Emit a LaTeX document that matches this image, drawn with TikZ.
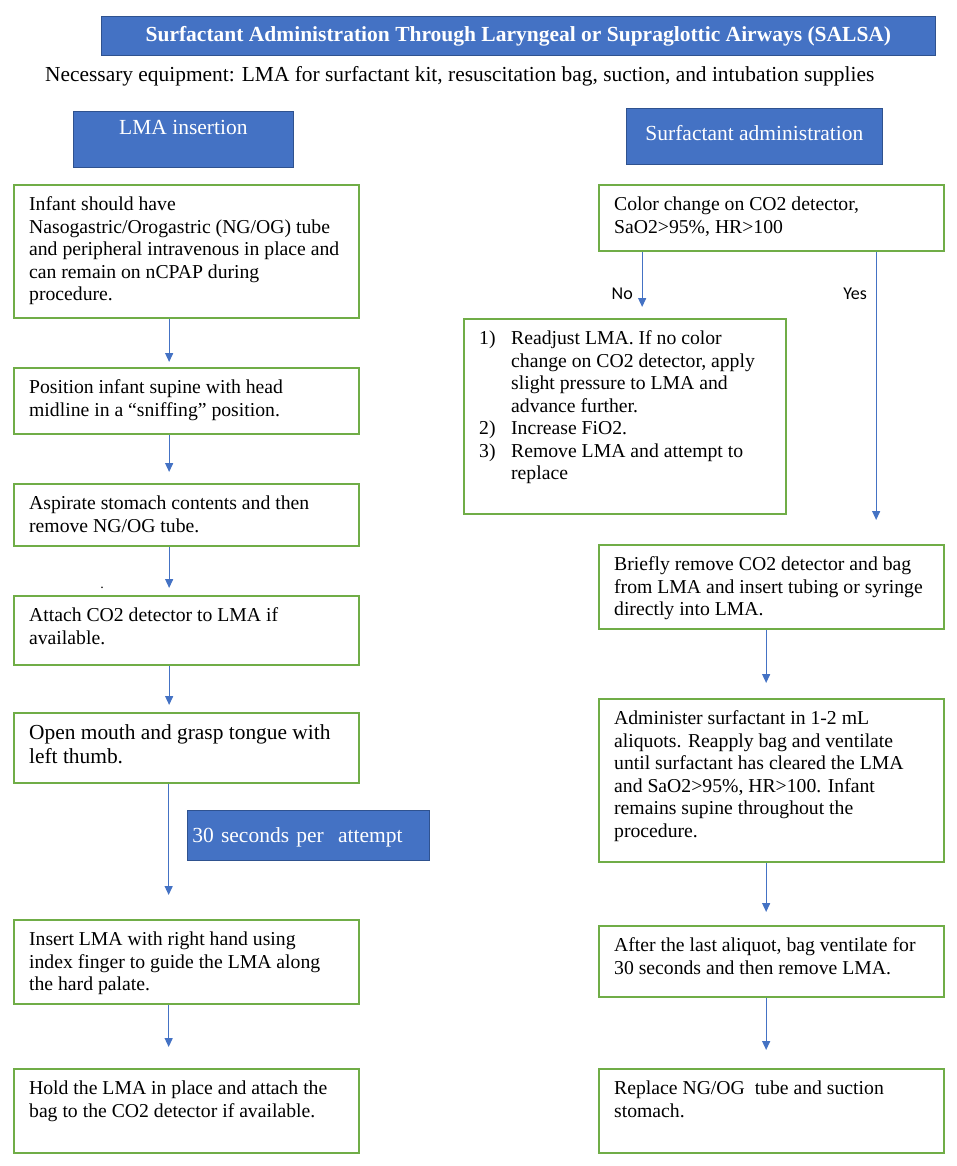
\documentclass[tikz,border=0pt]{standalone}
\usepackage{fontspec}
\setmainfont{Liberation Serif}
\newfontfamily\labelfont{Carlito}
\usetikzlibrary{positioning}
\usetikzlibrary{arrows.meta}
\definecolor{boxGreen}{HTML}{70AD47}
\definecolor{headBlue}{HTML}{4472C4}
\definecolor{headBorder}{HTML}{2F528F}
\definecolor{arrowBlue}{HTML}{4472C4}
\newcommand{\bodysize}{\fontsize{19.7pt}{22.5pt}\selectfont}
\newcommand{\bigbodysize}{\fontsize{21.4pt}{24pt}\selectfont}
\newcommand{\headsize}{\fontsize{21.5pt}{24pt}\selectfont}
\newcommand{\steptext}[3]{\parbox[c][#2][t]{#1}{\raggedright\strut #3}}
\newcommand{\itemno}[1]{\makebox[32pt][l]{#1}}

\begin{document}
\begin{tikzpicture}[x=1pt, y=-1pt]

          \tikzstyle{headNode} = [draw=headBorder, line width=0.8pt, fill=headBlue, text=white, anchor=north west, inner sep=0pt, font=\headsize];
          \tikzstyle{stepNode} = [draw=boxGreen, line width=2.3pt, anchor=north west, inner xsep=15pt, inner ysep=10pt, font=\bodysize];
          \tikzstyle{flowArrow} = [draw=arrowBlue, line width=1.3pt, -{Triangle[length=9pt,width=8pt]}];
          \tikzstyle{arrowLabel} = [anchor=east, inner sep=0pt, text height=12pt, text depth=0pt, font=\labelfont\fontsize{18pt}{20pt}\selectfont];

          \useasboundingbox (0,0) rectangle (957,1166);

          % headings
          \node[headNode, minimum width=834pt, text height=25pt, text depth=14pt, font=\headsize\bfseries] (title) at (101,16) {Surfactant Administration Through Laryngeal or Supraglottic Airways (SALSA)};
          \node[anchor=base west, inner sep=0pt, font=\fontsize{21.4pt}{24pt}\selectfont] (equip) at (45,82) {Necessary equipment: LMA for surfactant kit, resuscitation bag, suction, and intubation supplies};
          \node[headNode, minimum width=220pt, text height=23pt, text depth=33pt] (lmaHead) at (73,111) {LMA insertion};
          \node[headNode, minimum width=256pt, text height=32pt, text depth=24pt] (surfHead) at (626,108) {Surfactant administration};

          % LMA insertion
          \node[stepNode] (prep) at (13,184) {\steptext{315pt}{113pt}{Infant should have\\Nasogastric/Orogastric (NG/OG) tube\\and peripheral intravenous in place and\\can remain on nCPAP during\\procedure.}};
          \node[stepNode] (position) at (13,367) {\steptext{315pt}{46pt}{Position infant supine with head\\midline in a ``sniffing'' position.}};
          \node[stepNode] (aspirate) at (13,483) {\steptext{315pt}{42pt}{Aspirate stomach contents and then\\remove NG/OG tube.}};
          \node[inner sep=0pt, font=\fontsize{14pt}{14pt}\selectfont] (dot) at (102,588) {.};
          \node[stepNode] (attach) at (13,595) {\steptext{315pt}{49pt}{Attach CO2 detector to LMA if\\available.}};
          \node[stepNode, font=\bigbodysize] (mouth) at (13,712) {\steptext{315pt}{50pt}{Open mouth and grasp tongue with\\left thumb.}};
          \node[headNode, text width=232pt, align=left, inner xsep=5pt, text height=32pt, text depth=18pt] (attempt) at (187,810) {30 seconds per\ \ attempt};
          \node[stepNode] (insert) at (13,919) {\steptext{315pt}{64pt}{Insert LMA with right hand using\\index finger to guide the LMA along\\the hard palate.}};
          \node[stepNode] (hold) at (13,1068) {\steptext{315pt}{64pt}{Hold the LMA in place and attach the\\bag to the CO2 detector if available.}};

          % surfactant administration
          \node[stepNode] (color) at (598,184) {\steptext{315pt}{46pt}{Color change on CO2 detector,\\SaO2>95\%, HR>100}};
          \node[stepNode] (readjust) at (463,318) {\steptext{292pt}{175pt}{\itemno{1)}Readjust LMA. If no color\\\hspace*{32pt}change on CO2 detector, apply\\\hspace*{32pt}slight pressure to LMA and\\\hspace*{32pt}advance further.\\\itemno{2)}Increase FiO2.\\\itemno{3)}Remove LMA and attempt to\\\hspace*{32pt}replace}};
          \node[stepNode] (briefly) at (598,544) {\steptext{315pt}{64pt}{Briefly remove CO2 detector and bag\\from LMA and insert tubing or syringe\\directly into LMA.}};
          \node[stepNode] (administer) at (598,698) {\steptext{315pt}{143pt}{Administer surfactant in 1-2 mL\\aliquots. Reapply bag and ventilate\\until surfactant has cleared the LMA\\and SaO2>95\%, HR>100. Infant\\remains supine throughout the\\procedure.}};
          \node[stepNode] (after) at (598,925) {\steptext{315pt}{51pt}{After the last aliquot, bag ventilate for\\30 seconds and then remove LMA.}};
          \node[stepNode] (replace) at (598,1068) {\steptext{315pt}{64pt}{Replace NG/OG\ \ tube and suction\\stomach.}};

          \node[arrowLabel] (no) at (633,293) {No};
          \node[arrowLabel] (yes) at (867,293) {Yes};

          \draw[flowArrow, shorten >=5pt] ([xshift=-17.5pt]prep.south) -- ([xshift=-17.5pt]position.north);
          \draw[flowArrow, shorten >=11pt] ([xshift=-17.5pt]position.south) -- ([xshift=-17.5pt]aspirate.north);
          \draw[flowArrow, shorten >=7pt] ([xshift=-17.5pt]aspirate.south) -- ([xshift=-17.5pt]attach.north);
          \draw[flowArrow, shorten >=7pt] ([xshift=-17.5pt]attach.south) -- ([xshift=-17.5pt]mouth.north);
          \draw[flowArrow, shorten >=24pt] ([xshift=-18pt]mouth.south) -- ([xshift=-18pt]insert.north);
          \draw[flowArrow, shorten >=21pt] ([xshift=-18pt]insert.south) -- ([xshift=-18pt]hold.north);

          \draw[flowArrow, shorten >=11pt] ([xshift=-129.5pt]color.south) -- ([xshift=17pt]readjust.north);
          \draw[flowArrow, shorten >=24pt] ([xshift=104.5pt]color.south) -- ([xshift=104.5pt]briefly.north);
          \draw[flowArrow, shorten >=15pt] ([xshift=-5.5pt]briefly.south) -- ([xshift=-5.5pt]administer.north);
          \draw[flowArrow, shorten >=13pt] ([xshift=-5.5pt]administer.south) -- ([xshift=-5.5pt]after.north);
          \draw[flowArrow, shorten >=18pt] ([xshift=-5.5pt]after.south) -- ([xshift=-5.5pt]replace.north);
        \end{tikzpicture}
\end{document}
